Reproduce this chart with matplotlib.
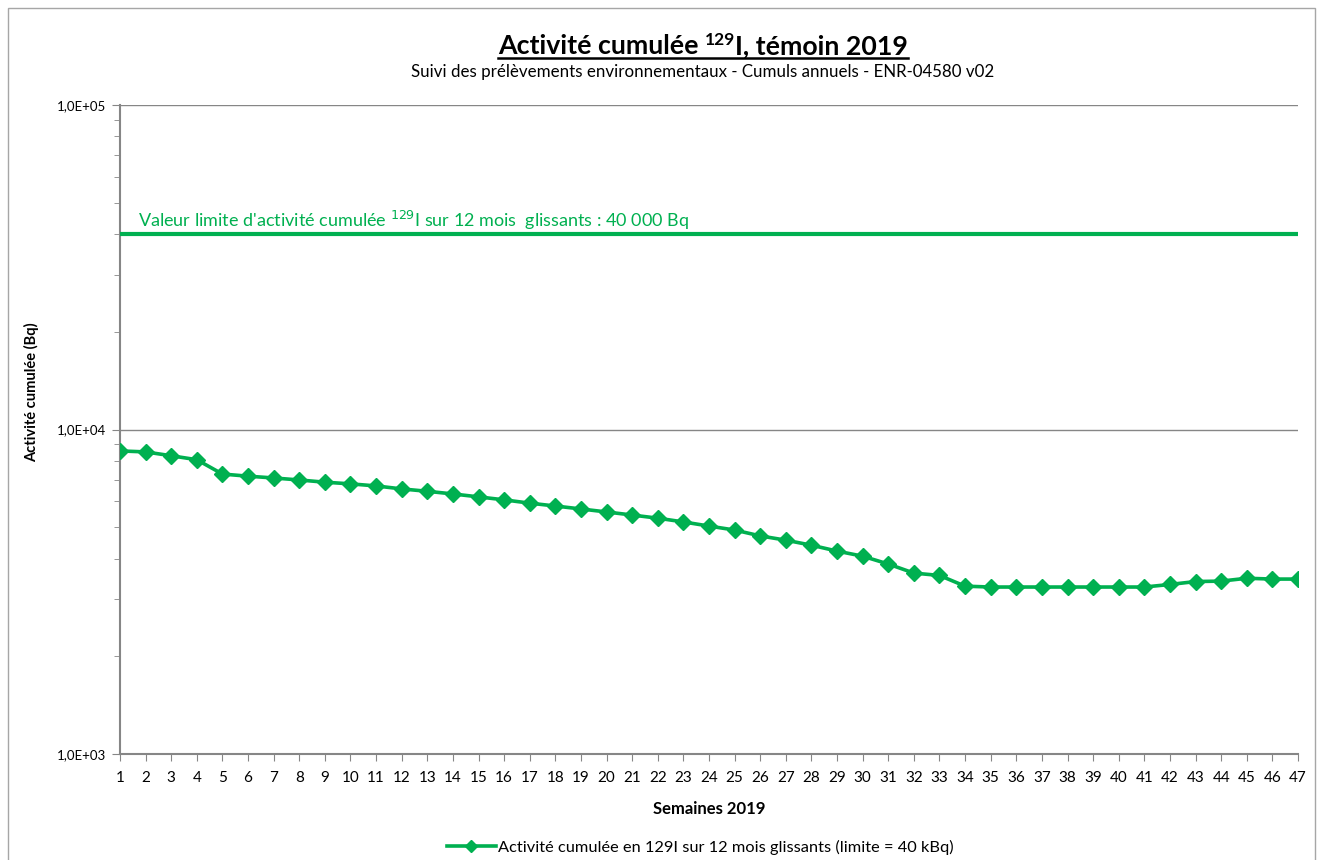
import matplotlib
matplotlib.use("Agg")
import matplotlib.pyplot as plt
from matplotlib.lines import Line2D
from matplotlib.patches import Rectangle
from matplotlib.ticker import FixedLocator, LogLocator, NullFormatter
import numpy as np

plt.rcParams["font.family"] = ["Lato", "DejaVu Sans"]

# ── Data ───────────────────────────────────────────────────────────────────────
WEEKS = list(range(1, 48))
ACTIVITY = [8590, 8530, 8300, 8070, 7290, 7180, 7090, 6990, 6880, 6800,
            6700, 6560, 6450, 6330, 6200, 6070, 5930, 5810, 5690, 5570,
            5450, 5330, 5190, 5040, 4900, 4700, 4560, 4400, 4220, 4070,
            3850, 3610, 3550, 3290, 3270, 3270, 3270, 3270, 3270, 3270,
            3270, 3330, 3400, 3410, 3480, 3460, 3460]
LIMIT = 40000
Y_TICKS = [1e3, 1e4, 1e5]
Y_TICK_LABELS = ["1,0E+03", "1,0E+04", "1,0E+05"]

GREEN = "#00B050"
GREY = "#868686"

fig = plt.figure(figsize=(13.23, 8.6), dpi=100)
fig.patches.append(Rectangle((8 / 1323, -0.01), 1307 / 1323, 1 - 8 / 860 + 0.01,
                             transform=fig.transFigure, fill=False,
                             edgecolor="#A6A6A6", lw=1.0))

ax = fig.add_axes([120 / 1323, 1 - 754 / 860, 1178 / 1323, 649 / 860])
ax.set_yscale("log")
ax.set_ylim(1e3, 1e5)
ax.set_xlim(1, 47)

ax.plot(WEEKS, ACTIVITY, color=GREEN, lw=2.6, marker="D", markersize=8,
        markeredgecolor=GREEN, zorder=3)
ax.plot([1, 47], [LIMIT, LIMIT], color=GREEN, lw=3, zorder=3)

ax.yaxis.set_major_locator(FixedLocator(Y_TICKS))
ax.set_yticklabels(Y_TICK_LABELS)
ax.yaxis.set_minor_locator(LogLocator(base=10, subs=np.arange(2, 10)))
ax.yaxis.set_minor_formatter(NullFormatter())
ax.set_xticks(WEEKS)
ax.set_xticklabels([str(w) for w in WEEKS])
ax.grid(axis="y", which="major", color=GREY, lw=1.0)
ax.set_axisbelow(True)

for s in ["top", "right"]:
    ax.spines[s].set_visible(False)
for s in ["left", "bottom"]:
    ax.spines[s].set_color(GREY)
    ax.spines[s].set_linewidth(1.5)
ax.tick_params(axis="y", which="major", length=6, color=GREY, labelsize=9.5, pad=4)
ax.tick_params(axis="y", which="minor", length=4, color=GREY)
ax.tick_params(axis="x", length=5, color=GREY, labelsize=11, pad=7)

ax.set_xlabel("Semaines 2019", fontsize=12, fontweight="bold", labelpad=12)
fig.text(32 / 1323, 1 - 392 / 860, "Activité cumulée (Bq)", rotation=90,
         ha="center", va="center", fontsize=10.5, fontweight="bold")

# Limit annotation
ax.annotate("Valeur limite d'activité cumulée $^{129}$I sur 12 mois  glissants : 40 000 Bq",
            xy=(138 / 1323, 1 - 220 / 860), xycoords="figure fraction",
            ha="left", va="center", color=GREEN, fontsize=13)

# ── Title with superscript and underline ───────────────────────────────────────
fig.canvas.draw()
renderer = fig.canvas.get_renderer()
parts = [("Activité cumulée ", 19.3, 0), ("129", 12.5, 9), ("I, témoin 2019", 19.3, 0)]
texts = []
widths = []
for s, fs, dy in parts:
    t = fig.text(0, 0, s, fontsize=fs, fontweight="bold", ha="left", va="baseline")
    bb = t.get_window_extent(renderer)
    texts.append(t)
    widths.append(bb.width)
total = sum(widths)
x0 = 703 - total / 2
base_y = 860 - 54
x = x0
for (s, fs, dy), t, w in zip(parts, texts, widths):
    t.set_position((x / 1323, (base_y + dy) / 860))
    x += w
fig.add_artist(Line2D([x0 / 1323, (x0 + total) / 1323], [(base_y - 4) / 860] * 2,
                      transform=fig.transFigure, color="black", lw=1.8))

fig.text(703 / 1323, 1 - 72 / 860,
         "Suivi des prélèvements environnementaux - Cumuls annuels - ENR-04580 v02",
         ha="center", va="center", fontsize=12.2)

# ── Legend ──────────────────────────────────────────────────────────────────────
handle = Line2D([], [], color=GREEN, lw=2.6, marker="D", markersize=6)
fig.legend([handle], ["Activité cumulée en 129I sur 12 mois glissants (limite = 40 kBq)"],
           loc="center", bbox_to_anchor=(700 / 1323, 1 - 847 / 860), frameon=False,
           fontsize=11.8, handlelength=3.0, handletextpad=0.1)

fig.savefig("out.png", dpi=100)
